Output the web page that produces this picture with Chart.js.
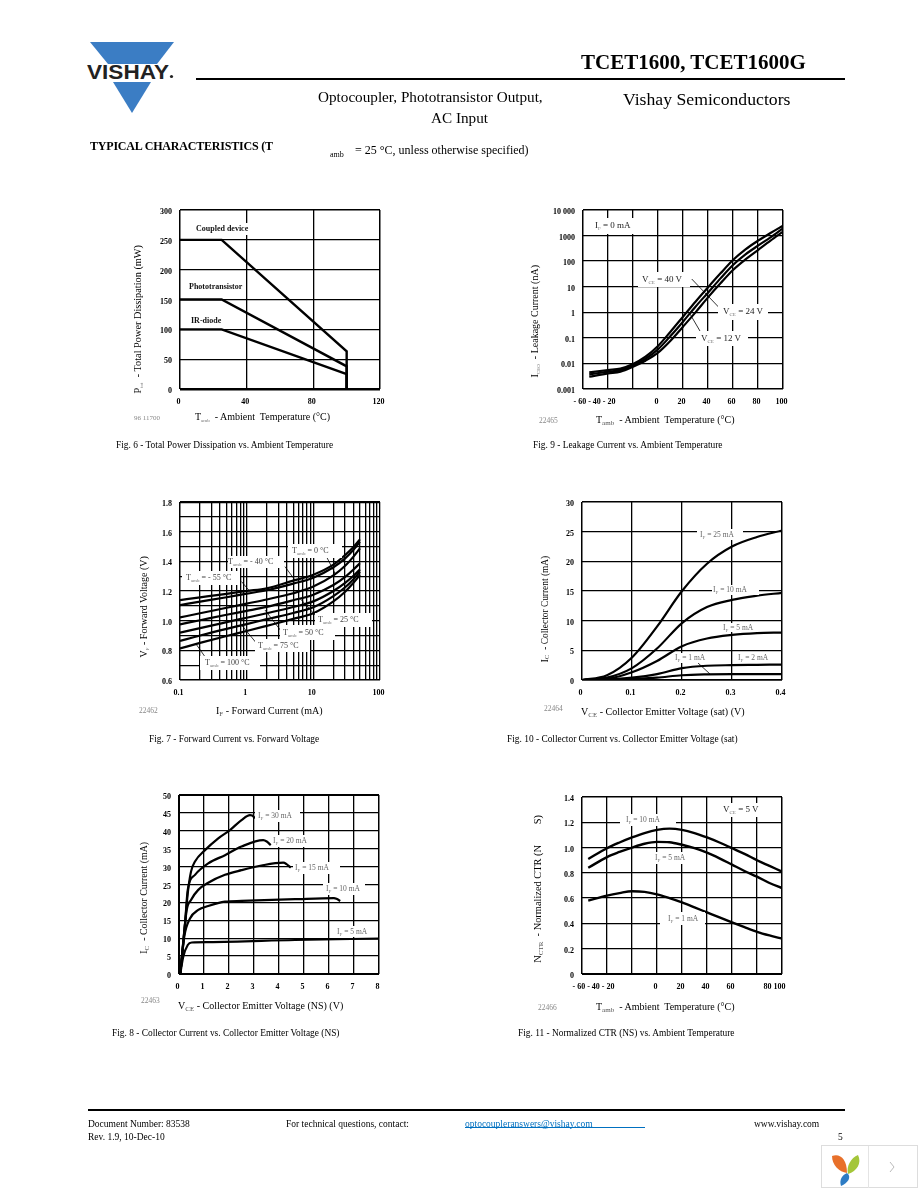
<!DOCTYPE html>
<html lang="en">
<head>
<meta charset="UTF-8">
<title>TCET1600, TCET1600G</title>
<script src="https://cdn.jsdelivr.net/npm/chart.js"></script>
<style>
  html, body { margin: 0; padding: 0; background: #fff; }
  body { width: 918px; height: 1188px; position: relative; overflow: hidden; font-family: "Liberation Serif", serif; color: #000; }
  canvas { position: absolute; }
  .t { position: absolute; white-space: pre; transform: translateY(-50%); line-height: 1; will-change: opacity; }
  .r { position: absolute; white-space: pre; transform-origin: left center; transform: rotate(-90deg); line-height: 1; }
  .box { position: absolute; background: #fff; }
  .s { font-size: 5px; color: #777; vertical-align: -2px; }
  .s2 { font-size: 7px; color: #555; vertical-align: -1.5px; }
  .rule { position: absolute; background: #000; height: 2px; }
</style>
</head>
<body>
<svg style="position:absolute;left:80px;top:38px" width="100" height="80" viewBox="80 38 100 80">
  <polygon points="90,42 174,42 157,64 108,64" fill="#3b7dc4"/>
  <polygon points="113,82 151,82 132,113" fill="#3b7dc4"/>
  <text x="87" y="79" font-family="Liberation Sans" font-weight="bold" font-size="20" textLength="82" lengthAdjust="spacingAndGlyphs" fill="#222">VISHAY</text>
  <circle cx="171.5" cy="76.5" r="1.6" fill="#222"/>
</svg>
<div class="rule" style="left:196px;top:78px;width:649px"></div>
<div class="rule" style="left:88px;top:1109px;width:757px"></div>
<div style="position:absolute;left:465px;top:1127px;width:180px;height:1px;background:#0070c0"></div>
<svg style="position:absolute;left:821px;top:1145px" width="97" height="43" viewBox="0 0 97 43">
  <rect x="0.5" y="0.5" width="96" height="42" fill="#fff" stroke="#ddd"/>
  <line x1="47.5" y1="1" x2="47.5" y2="43" stroke="#e4e4e4"/>
  <path d="M11 11 C19 8 26 14 26 28 C18 27 11 20 11 11Z" fill="#e8702a"/>
  <path d="M37 10 C41 18 36 26 27 29 C25 21 30 13 37 10Z" fill="#a4c639"/>
  <path d="M26 28 C31 32 27 38 20 41 C18 35 21 30 26 28Z" fill="#2d7cc4"/>
  <path d="M69 17 L73 22 L69 27" fill="none" stroke="#bbb" stroke-width="1"/>
</svg>

<script>
// Fig. 6 - power dissipation
const fig6X = [0, 25, 100, 100];
const fig6Coupled = [250, 250, 63, 0];
const fig6Photo = [150, 150, 38, 0];
const fig6Diode = [100, 100, 25, 0];
const fig6XTicks = [0, 40, 80, 120];
const fig6XLabels = ['0', '40', '80', '120'];
const fig6YTicks = [0, 50, 100, 150, 200, 250, 300];
const fig6YLabels = ['0', '50', '100', '150', '200', '250', '300'];

// Fig. 9 - leakage current
const fig9X = [-55, -40, -30, -20, -10, 0, 10, 20, 30, 40, 50, 60, 70, 80, 90, 100];
const fig9V40 = [0.00448, 0.00552, 0.0063, 0.0095, 0.0183, 0.048, 0.174, 0.673, 2.6, 9.44, 33.3, 111, 290, 631, 1259, 2438];
const fig9V24 = [0.00373, 0.00475, 0.0055, 0.00835, 0.0153, 0.0355, 0.118, 0.429, 1.66, 5.85, 21.2, 70.6, 184, 403, 851, 1919];
const fig9V12 = [0.00303, 0.00408, 0.0048, 0.00745, 0.0128, 0.0263, 0.0775, 0.274, 0.993, 3.84, 13.6, 45, 117, 272, 632, 1422];
const fig9LeadA = [[27, 20], [50.7, 1.23]];
const fig9LeadB = [[25.3, 0.908], [33.9, 0.174]];
const tempTicks = [-60, -40, -20, 0, 20, 40, 60, 80, 100];
const fig9XLabels = ['', '- 60 - 40 - 20\u00a0\u00a0\u00a0\u00a0\u00a0\u00a0\u00a0\u00a0\u00a0\u00a0\u00a0\u00a0', '', '0', '20', '40', '60', '80', '100'];
const fig9YTicks = [0.001, 0.01, 0.1, 1, 10, 100, 1000, 10000];
const fig9YLabels = ['0.001', '0.01', '0.1', '1', '10', '100', '1000', '10 000'];

// Fig. 7 - forward voltage
const fig7X = [0.1, 0.2, 0.5, 1, 2, 5, 10, 20, 30, 40, 50];
const fig7M55 = [1.139, 1.157, 1.181, 1.2, 1.218, 1.27, 1.31, 1.378, 1.443, 1.497, 1.548];
const fig7M40 = [1.105, 1.128, 1.158, 1.182, 1.205, 1.25, 1.29, 1.36, 1.42, 1.478, 1.532];
const fig7Z0 = [1.022, 1.05, 1.087, 1.115, 1.143, 1.185, 1.23, 1.305, 1.37, 1.432, 1.488];
const fig7P25 = [0.975, 1.003, 1.04, 1.066, 1.093, 1.138, 1.175, 1.24, 1.295, 1.345, 1.387];
const fig7P50 = [0.919, 0.95, 0.99, 1.02, 1.05, 1.092, 1.13, 1.2, 1.255, 1.303, 1.346];
const fig7P75 = [0.863, 0.9, 0.945, 0.977, 1.01, 1.052, 1.09, 1.165, 1.225, 1.28, 1.33];
const fig7P100 = [0.813, 0.85, 0.897, 0.93, 0.965, 1.012, 1.05, 1.13, 1.195, 1.255, 1.308];
const fig7Leads = [
  [[0.84, 1.263], [1.12, 1.196]],
  [[3.76, 1.364], [5.3, 1.274]],
  [[15.3, 1.443], [21.1, 1.319]],
  [[6.3, 1.15], [11.2, 1.027]],
  [[1.88, 1.072], [3.35, 0.925]],
  [[0.84, 0.97], [1.41, 0.847]],
  [[0.178, 0.836], [0.237, 0.757]]
];
const fig7XTicks = [0.1, 0.2, 0.3, 0.4, 0.5, 0.6, 0.7, 0.8, 0.9, 1, 2, 3, 4, 5, 6, 7, 8, 9, 10, 20, 30, 40, 50, 60, 70, 80, 90, 100];
const fig7XLabels = ['0.1', '', '', '', '', '', '', '', '', '1', '', '', '', '', '', '', '', '', '10', '', '', '', '', '', '', '', '', '100'];
const fig7YTicks = [0.6, 0.7, 0.8, 0.9, 1.0, 1.1, 1.2, 1.3, 1.4, 1.5, 1.6, 1.7, 1.8];
const fig7YLabels = ['0.6', '', '0.8', '', '1.0', '', '1.2', '', '1.4', '', '1.6', '', '1.8'];

// Fig. 10 - collector current (sat)
const fig10X = [0, 0.05, 0.1, 0.15, 0.2, 0.25, 0.3, 0.35, 0.4];
const fig10I25 = [0, 0.8, 3.8, 9, 15, 19.6, 22.5, 24.1, 25.2];
const fig10I10 = [0, 0.4, 2, 5.3, 9.6, 12.3, 13.5, 14.2, 14.7];
const fig10I5 = [0, 0.2, 1.3, 3.2, 5.7, 7, 7.6, 7.9, 8];
const fig10I2 = [0, 0.1, 0.4, 1, 2, 2.4, 2.5, 2.55, 2.6];
const fig10I1 = [0, 0.05, 0.15, 0.4, 0.8, 0.95, 1, 1, 1];
const fig10Lead = [[0.232, 2.87], [0.256, 1.01]];
const fig10XTicks = [0, 0.1, 0.2, 0.3, 0.4];
const fig10XLabels = ['0', '0.1', '0.2', '0.3', '0.4'];
const fig10YTicks = [0, 5, 10, 15, 20, 25, 30];
const fig10YLabels = ['0', '5', '10', '15', '20', '25', '30'];

// Fig. 8 - collector current (NS)
const fig8X30 = [0.05, 0.21, 0.35, 0.48, 0.64, 1.04, 1.57, 2.04, 2.5, 2.84, 2.93, 3.04];
const fig8I30 = [0, 11.4, 22.5, 28.6, 31.4, 34.6, 37.9, 40.2, 43, 44.4, 44.3, 43.5];
const fig8X20 = [0.05, 0.24, 0.35, 0.64, 1.17, 1.84, 2.5, 3.37, 3.51, 3.67];
const fig8I20 = [0, 14, 23.5, 27.7, 30.9, 33.2, 35.6, 37.4, 37, 36];
const fig8X15 = [0.05, 0.31, 0.48, 0.77, 1.17, 1.84, 2.5, 3.3, 4.17, 4.3, 4.47];
const fig8I15 = [0, 17.9, 20.7, 23.5, 25.5, 27.7, 29, 30.3, 31.1, 30.7, 29.7];
const fig8X10 = [0.05, 0.21, 0.44, 0.77, 1.17, 1.84, 2.5, 4.64, 6.2, 6.3, 6.45];
const fig8I10 = [0, 10.4, 15.5, 17.9, 19, 20.2, 20.4, 20.9, 21.2, 21, 20.4];
const fig8X5 = [0.05, 0.17, 0.35, 0.51, 1.17, 4.64, 8];
const fig8I5 = [0, 4.8, 8.1, 8.8, 8.9, 9.5, 9.9];
const fig8XTicks = [0, 1, 2, 3, 4, 5, 6, 7, 8];
const fig8XLabels = ['0', '1', '2', '3', '4', '5', '6', '7', '8'];
const fig8YTicks = [0, 5, 10, 15, 20, 25, 30, 35, 40, 45, 50];
const fig8YLabels = ['0', '5', '10', '15', '20', '25', '30', '35', '40', '45', '50'];

// Fig. 11 - normalized CTR
const fig11X = [-55, -40, -30, -20, -10, 0, 10, 20, 30, 40, 50, 60, 70, 80, 90, 100];
const fig11I10 = [0.91, 0.995, 1.04, 1.08, 1.115, 1.14, 1.15, 1.14, 1.115, 1.08, 1.04, 0.995, 0.95, 0.9, 0.855, 0.81];
const fig11I5 = [0.84, 0.925, 0.965, 1.0, 1.03, 1.045, 1.042, 1.022, 0.995, 0.96, 0.915, 0.865, 0.815, 0.77, 0.72, 0.68];
const fig11I1 = [0.58, 0.62, 0.64, 0.655, 0.65, 0.63, 0.6, 0.566, 0.527, 0.487, 0.447, 0.408, 0.37, 0.334, 0.305, 0.28];
const fig11XLabels = ['', '- 60 - 40 - 20\u00a0\u00a0\u00a0\u00a0\u00a0\u00a0\u00a0\u00a0\u00a0\u00a0\u00a0\u00a0', '', '0', '20', '40', '60', '\u00a0\u00a0\u00a0\u00a0\u00a0\u00a0\u00a0\u00a0\u00a0\u00a0\u00a0\u00a0\u00a0\u00a0\u00a0\u00a0\u00a0\u00a0\u00a080 100', ''];
const fig11YTicks = [0, 0.2, 0.4, 0.6, 0.8, 1.0, 1.2, 1.4];
const fig11YLabels = ['0', '0.2', '0.4', '0.6', '0.8', '1.0', '1.2', '1.4'];

const pts = (xs, ys) => xs.map((x, i) => ({ x, y: ys[i] }));
const leadPts = (arr) => arr.map(p => ({ x: p[0], y: p[1] }));

function curve(data, width, smooth) {
  return {
    data,
    borderColor: '#000',
    borderWidth: width,
    pointRadius: 0,
    cubicInterpolationMode: smooth ? 'monotone' : 'default',
    tension: 0
  };
}
const lead = (arr) => curve(leadPts(arr), 0.8, false);

function axis(type, min, max, ticks, labels, edgeLo, edgeHi, fitProp, fitVal, shift) {
  const last = ticks.length - 1;
  return {
    type, min, max,
    afterBuildTicks: (s) => { s.ticks = ticks.map(value => ({ value })); },
    afterFit: (s) => { s[fitProp] = fitVal; },
    border: { display: false },
    grid: {
      color: '#000',
      drawTicks: false,
      lineWidth: (c) => c.index === 0 ? edgeLo : c.index === last ? edgeHi : 1.3
    },
    ticks: {
      color: '#000',
      font: { family: 'Liberation Serif', size: 8, weight: 'bold' },
      padding: 8,
      labelOffset: shift,
      autoSkip: false,
      maxRotation: 0,
      minRotation: 0,
      callback: (v, i) => labels[i]
    }
  };
}

// plot area is fixed: left, top, width, height on the page
function makeChart(plot, xAxis, yAxis, datasets) {
  const cv = document.createElement('canvas');
  const left = plot[0] - 60, top = plot[1] - 15;
  cv.width = plot[2] + 80;
  cv.height = plot[3] + 45;
  cv.style.left = left + 'px';
  cv.style.top = top + 'px';
  document.body.appendChild(cv);
  new Chart(cv, {
    type: 'line',
    data: { datasets },
    options: {
      responsive: false,
      animation: false,
      devicePixelRatio: 1,
      layout: { padding: { left: 20, top: 15, right: 20, bottom: 5 } },
      plugins: { legend: { display: false }, tooltip: { enabled: false } },
      scales: { x: xAxis, y: yAxis }
    }
  });
}
const xA = (type, min, max, t, l, lo, hi) => axis(type, min, max, t, l, lo, hi, 'height', 25, -1.5);
const yA = (type, min, max, t, l, lo, hi) => axis(type, min, max, t, l, lo, hi, 'width', 40, 2);

makeChart([180, 210, 200, 179],
  xA('linear', 0, 120, fig6XTicks, fig6XLabels, 1.5, 1.5),
  yA('linear', 0, 300, fig6YTicks, fig6YLabels, 2.5, 1.5),
  [curve(pts(fig6X, fig6Coupled), 2.4), curve(pts(fig6X, fig6Photo), 2.4), curve(pts(fig6X, fig6Diode), 2.4)]);

makeChart([583, 210, 200, 179],
  xA('linear', -60, 100, tempTicks, fig9XLabels, 1.5, 1.5),
  yA('logarithmic', 0.001, 10000, fig9YTicks, fig9YLabels, 1.5, 1.5),
  [curve(pts(fig9X, fig9V40), 2.2, true), curve(pts(fig9X, fig9V24), 2.2, true), curve(pts(fig9X, fig9V12), 2.2, true), lead(fig9LeadA), lead(fig9LeadB)]);

makeChart([180, 502, 200, 178],
  xA('logarithmic', 0.1, 100, fig7XTicks, fig7XLabels, 1.5, 1.3),
  yA('linear', 0.6, 1.8, fig7YTicks, fig7YLabels, 1.5, 2.2),
  [fig7M55, fig7M40, fig7Z0, fig7P25, fig7P50, fig7P75, fig7P100].map(v => curve(pts(fig7X, v), 2.2, true)).concat(fig7Leads.map(lead)));

makeChart([582, 502, 200, 178],
  xA('linear', 0, 0.4, fig10XTicks, fig10XLabels, 1.5, 1.5),
  yA('linear', 0, 30, fig10YTicks, fig10YLabels, 1.8, 1.5),
  [fig10I25, fig10I10, fig10I5, fig10I2, fig10I1].map(v => curve(pts(fig10X, v), 2.2, true)).concat([lead(fig10Lead)]));

makeChart([179, 795, 200, 179],
  xA('linear', 0, 8, fig8XTicks, fig8XLabels, 2, 1.5),
  yA('linear', 0, 50, fig8YTicks, fig8YLabels, 2, 2),
  [curve(pts(fig8X30, fig8I30), 2.2, true), curve(pts(fig8X20, fig8I20), 2.2, true), curve(pts(fig8X15, fig8I15), 2.2, true), curve(pts(fig8X10, fig8I10), 2.2, true), curve(pts(fig8X5, fig8I5), 2.2, true)]);

makeChart([582, 797, 200, 177],
  xA('linear', -60, 100, tempTicks, fig11XLabels, 1.5, 1.5),
  yA('linear', 0, 1.4, fig11YTicks, fig11YLabels, 2, 1.5),
  [curve(pts(fig11X, fig11I10), 2.4, true), curve(pts(fig11X, fig11I5), 2.4, true), curve(pts(fig11X, fig11I1), 2.4, true)]);

const sub = (s) => `<span class="s">${s}</span>`;
const sub2 = (s) => `<span class="s2">${s}</span>`;
const TAMB = `T${sub('amb')}`;

// white label boxes over the grid: box x, y, w, h, text x, font size, html, colour, weight
const boxes = [
  [195, 223, 53, 12, 196, 8, 'Coupled device', '#111', 'bold'],
  [187, 281, 53, 12, 189, 8, 'Phototransistor', '#111', 'bold'],
  [189, 315, 30, 12, 191, 8, 'IR-diode', '#111', 'bold'],
  [590, 218, 45, 16, 595, 9, `I${sub('F')} = 0 mA`, '#222'],
  [638, 272, 52, 15, 642, 9, `V${sub('CE')} = 40 V`, '#222'],
  [718, 304, 50, 16, 723, 9, `V${sub('CE')} = 24 V`, '#222'],
  [696, 331, 52, 15, 701, 9, `V${sub('CE')} = 12 V`, '#222'],
  [288, 544, 54, 14, 292, 8, `${TAMB} = 0 °C`, '#444'],
  [228, 556, 56, 12, 228, 8, `${TAMB} = - 40 °C`, '#444'],
  [182, 571, 58, 14, 186, 8, `${TAMB} = - 55 °C`, '#444'],
  [315, 613, 57, 14, 318, 8, `${TAMB} = 25 °C`, '#444'],
  [280, 625, 55, 15, 283, 8, `${TAMB} = 50 °C`, '#444'],
  [255, 639, 55, 13, 258, 8, `${TAMB} = 75 °C`, '#444'],
  [200, 656, 60, 14, 205, 8, `${TAMB} = 100 °C`, '#444'],
  [697, 529, 46, 11, 700, 7.5, `I${sub('F')} = 25 mA`, '#666'],
  [712, 585, 47, 10, 713, 7.5, `I${sub('F')} = 10 mA`, '#666'],
  [720, 623, 37, 9, 723, 7.5, `I${sub('F')} = 5 mA`, '#666'],
  [672, 653, 40, 10, 675, 7.5, `I${sub('F')} = 1 mA`, '#666'],
  [735, 652, 37, 11, 738, 7.5, `I${sub('F')} = 2 mA`, '#666'],
  [255, 810, 45, 12, 258, 7.5, `I${sub('F')} = 30 mA`, '#666'],
  [272, 835, 41, 12, 273, 7.5, `I${sub('F')} = 20 mA`, '#666'],
  [293, 862, 47, 12, 295, 7.5, `I${sub('F')} = 15 mA`, '#666'],
  [323, 883, 42, 12, 326, 7.5, `I${sub('F')} = 10 mA`, '#666'],
  [335, 926, 37, 11, 337, 7.5, `I${sub('F')} = 5 mA`, '#666'],
  [718, 803, 44, 14, 723, 9, `V${sub('CE')} = 5 V`, '#222'],
  [620, 814, 56, 12, 626, 7.5, `I${sub('F')} = 10 mA`, '#666'],
  [650, 852, 40, 12, 655, 7.5, `I${sub('F')} = 5 mA`, '#666'],
  [660, 912, 45, 13, 668, 7.5, `I${sub('F')} = 1 mA`, '#666']
];
boxes.forEach(b => {
  const d = document.createElement('div');
  d.className = 'box';
  d.style.cssText = `left:${b[0]}px;top:${b[1]}px;width:${b[2]}px;height:${b[3]}px`;
  document.body.appendChild(d);
  const t = document.createElement('div');
  t.className = 't';
  t.style.cssText = `left:${b[4]}px;top:${b[1] + b[3] / 2}px;font-size:${b[5]}px;color:${b[7]};font-weight:${b[8] || 'normal'}`;
  t.innerHTML = b[6];
  document.body.appendChild(t);
});

// page text: x, y centre, size, html, extra style
const texts = [
  [581, 62, 21, 'TCET1600, TCET1600G', 'font-weight:bold'],
  [318, 97, 15.2, 'Optocoupler, Phototransistor Output,'],
  [431, 118, 15.2, 'AC Input'],
  [623, 100, 17.7, 'Vishay Semiconductors'],
  [90, 146, 12, 'TYPICAL CHARACTERISTICS (T', 'font-weight:bold;letter-spacing:-.2px'],
  [330, 155, 8, 'amb'],
  [355, 150, 12, '= 25 °C, unless otherwise specified)'],
  [195, 417, 10, `T${sub('amb')}  - Ambient  Temperature (°C)`],
  [134, 418, 7, '96 11700', 'color:#888'],
  [596, 421, 10, `T${sub2('amb')}  - Ambient  Temperature (°C)`],
  [539, 421, 7.5, '22465', 'color:#888'],
  [216, 712, 10, `I${sub2('F')} - Forward Current (mA)`],
  [139, 711, 7.5, '22462', 'color:#888'],
  [581, 713, 10, `V${sub2('CE')} - Collector Emitter Voltage (sat) (V)`],
  [544, 709, 7.5, '22464', 'color:#888'],
  [178, 1007, 10, `V${sub2('CE')} - Collector Emitter Voltage (NS) (V)`],
  [141, 1001, 7.5, '22463', 'color:#888'],
  [596, 1008, 10, `T${sub2('amb')}  - Ambient  Temperature (°C)`],
  [538, 1008, 7.5, '22466', 'color:#888'],
  [116, 446, 9.4, 'Fig. 6 - Total Power Dissipation vs. Ambient Temperature'],
  [533, 446, 9.4, 'Fig. 9 - Leakage Current vs. Ambient Temperature'],
  [149, 740, 9.4, 'Fig. 7 - Forward Current vs. Forward Voltage'],
  [507, 740, 9.4, 'Fig. 10 - Collector Current vs. Collector Emitter Voltage (sat)'],
  [112, 1034, 9.4, 'Fig. 8 - Collector Current vs. Collector Emitter Voltage (NS)'],
  [518, 1034, 9.4, 'Fig. 11 - Normalized CTR (NS) vs. Ambient Temperature'],
  [88, 1125, 9.5, 'Document Number: 83538'],
  [286, 1125, 9.5, 'For technical questions, contact:'],
  [465, 1125, 9.5, 'optocoupleranswers@vishay.com', 'color:#0070c0'],
  [754, 1125, 9.5, 'www.vishay.com'],
  [88, 1138, 9.5, 'Rev. 1.9, 10-Dec-10'],
  [838, 1138, 9.5, '5']
];
texts.forEach(a => {
  const t = document.createElement('div');
  t.className = 't';
  t.style.cssText = `left:${a[0]}px;top:${a[1]}px;font-size:${a[2]}px;${a[4] || ''}`;
  t.innerHTML = a[3];
  document.body.appendChild(t);
});

// rotated axis titles: x centre, bottom y, size, html
const rotated = [
  [138, 393, 10.3, `P${sub('tot')}  - Total Power Dissipation (mW)`],
  [535, 377, 10, `I${sub('CEO')}  - Leakage Current (nA)`],
  [144, 657, 10, `V${sub('F')} - Forward Voltage (V)`],
  [546, 662, 9.4, `I${sub2('C')}  - Collector Current (mA)`],
  [145, 953, 9.9, `I${sub2('C')}  - Collector Current (mA)`],
  [539, 962, 10.4, `N${sub2('CTR')}  - Normalized CTR (N        S)`]
];
rotated.forEach(a => {
  const t = document.createElement('div');
  t.className = 'r';
  t.style.cssText = `left:${a[0]}px;top:${a[1] - a[2] / 2}px;font-size:${a[2]}px`;
  t.innerHTML = a[3];
  document.body.appendChild(t);
});
</script>
</body>
</html>
